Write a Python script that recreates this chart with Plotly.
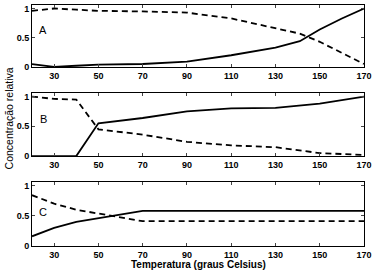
import plotly.graph_objects as go
from plotly.subplots import make_subplots

temps_A = [20, 25, 30, 40, 50, 70, 90, 110, 130, 141, 150, 160, 170]
A_solid = [0.05, 0.02, 0.0, 0.02, 0.04, 0.05, 0.09, 0.2, 0.33, 0.44, 0.64, 0.83, 1.0]
A_dashed = [0.96, 0.98, 1.0, 0.98, 0.96, 0.95, 0.93, 0.83, 0.67, 0.57, 0.43, 0.24, 0.05]

temps_B = [20, 30, 40, 50, 70, 90, 110, 130, 150, 170]
B_solid = [0.0, 0.0, 0.0, 0.55, 0.64, 0.75, 0.8, 0.81, 0.88, 1.0]
B_dashed = [1.0, 0.96, 0.95, 0.45, 0.36, 0.24, 0.18, 0.15, 0.05, 0.02]

temps_C = [20, 30, 40, 50, 60, 70, 90, 110, 130, 150, 170]
C_solid = [0.16, 0.3, 0.4, 0.46, 0.52, 0.58, 0.58, 0.58, 0.58, 0.58, 0.58]
C_dashed = [0.84, 0.7, 0.6, 0.54, 0.47, 0.41, 0.41, 0.41, 0.41, 0.41, 0.41]

panel_labels = ["A", "B", "C"]
x_ticks = [30, 50, 70, 90, 110, 130, 150, 170]
y_ticks = [0, 0.5, 1]
y_tick_text = ["0", "0.5", "1"]

fig = make_subplots(rows=3, cols=1, shared_xaxes=False, vertical_spacing=0.1)
series = [(temps_A, A_solid, A_dashed), (temps_B, B_solid, B_dashed), (temps_C, C_solid, C_dashed)]
for i, (t, s, d) in enumerate(series, start=1):
    fig.add_trace(go.Scatter(x=t, y=s, mode="lines", line=dict(color="black", width=1.8), showlegend=False), row=i, col=1)
    fig.add_trace(go.Scatter(x=t, y=d, mode="lines", line=dict(color="black", width=1.8, dash="6px,4px"), showlegend=False), row=i, col=1)

domains = [[0.743, 1.0], [0.373, 0.635], [0.0, 0.266]]
tickfont = dict(family="Liberation Sans Narrow, Arial Narrow, Liberation Sans, Arial", size=9, color="black", weight="bold")
for i in range(1, 4):
    xa = "xaxis" if i == 1 else f"xaxis{i}"
    ya = "yaxis" if i == 1 else f"yaxis{i}"
    fig.layout[xa].update(range=[20, 170], tickvals=x_ticks, ticks="inside", ticklen=3,
                          showline=True, linecolor="black", linewidth=1, mirror="ticks",
                          showgrid=False, zeroline=False, tickfont=tickfont,
                          automargin=False, ticklabeloverflow="allow")
    fig.layout[ya].update(range=[0, 1.06], domain=domains[i - 1], tickvals=y_ticks, ticktext=y_tick_text,
                          ticks="inside", ticklen=3, showline=True, linecolor="black", linewidth=1,
                          mirror="ticks", showgrid=False, zeroline=False, tickfont=tickfont,
                          automargin=False, ticklabeloverflow="allow")

label_y = [0.63, 0.63, 0.56]
for i, lab in enumerate(panel_labels, start=1):
    xr = "x" if i == 1 else f"x{i}"
    yr = "y" if i == 1 else f"y{i}"
    fig.add_annotation(x=25, y=label_y[i - 1], xref=xr, yref=yr, text=lab, showarrow=False,
                       xanchor="center", font=dict(family="Liberation Sans, Arial", size=11, color="black"))

fig.add_annotation(x=0.5, y=-0.047, xref="paper", yref="paper", text="<b>Temperatura (graus Celsius)</b>",
                   showarrow=False, xanchor="center", yanchor="top",
                   font=dict(family="Liberation Sans, Arial", size=10, color="black"))
fig.add_annotation(x=-0.068, y=0.531, xref="paper", yref="paper", text="Concentração relativa",
                   showarrow=False, textangle=-90, xanchor="center", yanchor="middle",
                   font=dict(family="Liberation Sans, Arial", size=10.5, color="black"))

fig.update_layout(width=372, height=271, margin=dict(l=32, r=8, t=5, b=25),
                  plot_bgcolor="white", paper_bgcolor="white")
fig.write_html("out.html", config={"displayModeBar": False},
               post_script="document.body.style.margin='0';document.body.style.padding='0';")
